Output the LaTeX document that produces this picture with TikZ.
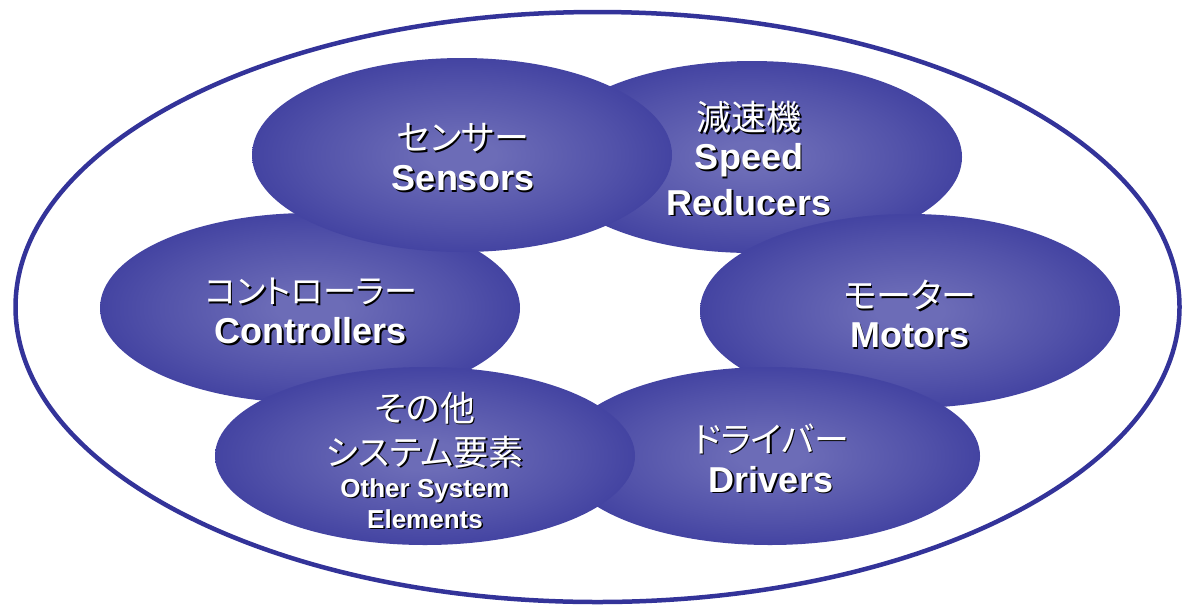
\documentclass[tikz,border=0pt]{standalone}
\usepackage{fontspec}
\setmainfont{Liberation Sans}
\newfontfamily\jpfont[RawFeature=+palt]{Noto Sans CJK JP}
\usetikzlibrary{shapes.geometric}
\definecolor{edgeblue}{RGB}{51,51,153}
\definecolor{midblue}{RGB}{108,108,183}
\pgfdeclareradialshading{blobshade}{\pgfpoint{0bp}{0bp}}{color(0bp)=(midblue); color(4bp)=(midblue); color(18bp)=(midblue!55!edgeblue); color(33bp)=(edgeblue); color(50bp)=(edgeblue)}
\newcommand\shd[1]{\leavevmode\rlap{\kern1.5pt\raisebox{-1.5pt}{\color{black}#1}}{\color{white}#1}}
\newcommand\jp{\jpfont\fontsize{35}{44}\selectfont}
\newcommand\jps{\jpfont\fontsize{33}{44}\selectfont}
\newcommand\en{\bfseries\fontsize{36}{44}\selectfont}
\newcommand\ens{\bfseries\fontsize{26}{30}\selectfont}
\tikzset{
  blob/.style={ellipse, inner sep=0pt, outer sep=0pt, draw=none, shading=blobshade, minimum width=420pt, minimum height=#1},
  lbl/.style={align=center, inner sep=0pt, text=white},
  outerring/.style={ellipse, inner sep=0pt, draw=edgeblue, line width=4.5pt, minimum width=1164pt, minimum height=590pt}
}
\begin{document}
\begin{tikzpicture}[x=1pt,y=-1pt]
\fill[white] (0,0) rectangle (1182,606);
\useasboundingbox (0,0) rectangle (1182,606);
\node[outerring] (outer) at (597.5,307) {};
% Speed reducers
\node[blob=192pt] (red) at (752,157) {};
\node[lbl] (redT) at (749,159) {\jp\shd{減速機}\\[8pt]\en\shd{Speed}\\[9pt]\en\shd{Reducers}};
% Motors
\node[blob=194pt] (mot) at (910,311) {};
\node[lbl] (motT) at (910,315) {\jp\shd{モーター}\\[10pt]\en\shd{Motors}};
% Drivers
\node[blob=178pt] (drv) at (770,456) {};
\node[lbl] (drvT) at (771,459) {\jp\shd{ドライバー}\\[10pt]\en\shd{Drivers}};
% Controllers
\node[blob=190pt] (ctl) at (310,308) {};
\node[lbl] (ctlT) at (311,312) {\jps\shd{コントローラー}\\[10pt]\en\shd{Controllers}};
% Other system elements
\node[blob=178pt] (oth) at (425,456) {};
\node[lbl] (othT) at (425,461) {\jp\shd{その他}\\[9pt]\jp\shd{システム要素}\\[8pt]\ens\shd{Other System}\\[4pt]\ens\shd{Elements}};
% Sensors
\node[blob=194pt] (sen) at (462,155) {};
\node[lbl] (senT) at (463,158) {\jp\shd{センサー}\\[11pt]\en\shd{Sensors}};
\end{tikzpicture}
\end{document}
